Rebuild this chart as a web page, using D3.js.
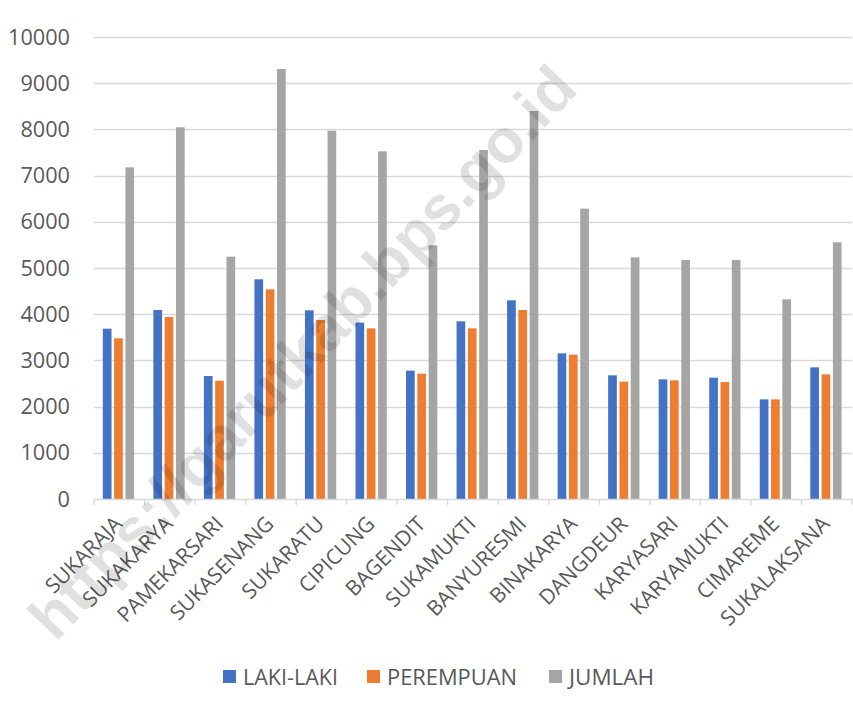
<!DOCTYPE html>
<html>
<head>
<meta charset="utf-8">
<script src="https://cdn.jsdelivr.net/npm/d3@7"></script>
<style>
  html, body { margin: 0; padding: 0; background: #fff; }
  svg { display: block; }
</style>
</head>
<body>
<svg id="chart" width="853" height="711"></svg>
<script>
const categories = ["SUKARAJA","SUKAKARYA","PAMEKARSARI","SUKASENANG","SUKARATU","CIPICUNG","BAGENDIT","SUKAMUKTI","BANYURESMI","BINAKARYA","DANGDEUR","KARYASARI","KARYAMUKTI","CIMAREME","SUKALAKSANA"];
const seriesNames = ["LAKI-LAKI","PEREMPUAN","JUMLAH"];
const lakiLaki  = [3686,4091,2662,4755,4084,3817,2778,3846,4300,3153,2677,2590,2626,2157,2850];
const perempuan = [3478,3939,2561,4538,3874,3694,2713,3694,4091,3124,2540,2568,2532,2157,2698];
const jumlah    = [7179,8045,5245,9307,7972,7525,5491,7554,8398,6284,5231,5173,5173,4322,5556];
const yTicks = [0,1000,2000,3000,4000,5000,6000,7000,8000,9000,10000];
const colors = ["#4472C4","#ED7D31","#A5A5A5"];
const watermark = "https://garutkab.bps.go.id";

const font = "'Open Sans', 'Liberation Sans', sans-serif";
const svg = d3.select("#chart");
const m = {left: 94, right: 852, top: 37, bottom: 499};

const x = d3.scaleBand().domain(categories).range([m.left, m.right]).paddingInner(0).paddingOuter(0);
const y = d3.scaleLinear().domain([0, 10000]).range([m.bottom, m.top]);
const seriesData = [lakiLaki, perempuan, jumlah];

// gridlines
svg.append("g").selectAll("line").data(yTicks.filter(d => d > 0)).join("line")
  .attr("x1", m.left).attr("x2", m.right)
  .attr("y1", d => Math.round(y(d)) + 0.5).attr("y2", d => Math.round(y(d)) + 0.5)
  .attr("stroke", "#D9D9D9").attr("stroke-width", 1.4);

// y labels
svg.append("g").selectAll("text").data(yTicks).join("text")
  .attr("x", 70).attr("y", d => y(d))
  .attr("dy", "0.36em")
  .attr("text-anchor", "end")
  .attr("font-family", font).attr("font-size", 21).attr("fill", "#595959")
  .attr("textLength", d => String(d).length * 12.4).attr("lengthAdjust", "spacingAndGlyphs")
  .text(d => d);

// bars
const bw = x.bandwidth();
const barW = bw * 0.172;
const gap = barW * 0.3;
const groupW = 3 * barW + 2 * gap;
const groups = svg.append("g");
seriesData.forEach((vals, si) => {
  groups.append("g").selectAll("rect").data(vals).join("rect")
    .attr("x", (d, i) => x(categories[i]) + (bw - groupW) / 2 - 0.8 + si * (barW + gap))
    .attr("y", d => y(d))
    .attr("width", barW)
    .attr("height", d => y(0) - y(d))
    .attr("fill", colors[si]);
});

// x axis
const gx = svg.append("g").attr("transform", `translate(0,${m.bottom})`);
gx.append("line").attr("x1", m.left).attr("x2", m.right).attr("y1", 0.5).attr("y2", 0.5)
  .attr("stroke", "#D9D9D9").attr("stroke-width", 1.4);
const bounds = categories.map(c => x(c)).concat([m.right]);
gx.selectAll("line.tk").data(bounds).join("line").attr("class", "tk")
  .attr("x1", d => d).attr("x2", d => d).attr("y1", 0).attr("y2", 6)
  .attr("stroke", "#D9D9D9").attr("stroke-width", 1.4);
gx.selectAll("text").data(categories).join("text")
  .attr("transform", d => `translate(${x(d) + bw / 2 - 1},${21}) rotate(-45)`)
  .attr("text-anchor", "end")
  .attr("dy", "0.35em")
  .attr("font-family", font).attr("font-size", 21).attr("fill", "#595959")
  .text(d => d);

// legend
const legendItems = [
  {name: seriesNames[0], c: colors[0], x: 223, w: 95},
  {name: seriesNames[1], c: colors[1], x: 367, w: 130},
  {name: seriesNames[2], c: colors[2], x: 549, w: 85}
];
const lg = svg.append("g");
legendItems.forEach(it => {
  lg.append("rect").attr("x", it.x).attr("y", 670).attr("width", 13).attr("height", 13).attr("fill", it.c);
  lg.append("text").attr("x", it.x + 20).attr("y", 677).attr("dy", "0.36em")
    .attr("font-family", font).attr("font-size", 21).attr("fill", "#595959")
    .attr("textLength", it.w).attr("lengthAdjust", "spacingAndGlyphs")
    .text(it.name);
});

// watermark
svg.append("text")
  .attr("transform", "translate(302,352) rotate(-46.5)")
  .attr("text-anchor", "middle").attr("dy", "0.35em")
  .attr("font-family", "'Liberation Sans', Arial, sans-serif").attr("font-weight", "bold")
  .attr("font-size", 62).attr("fill", "#000").attr("fill-opacity", 0.12)
  .text(watermark);
</script>
</body>
</html>
